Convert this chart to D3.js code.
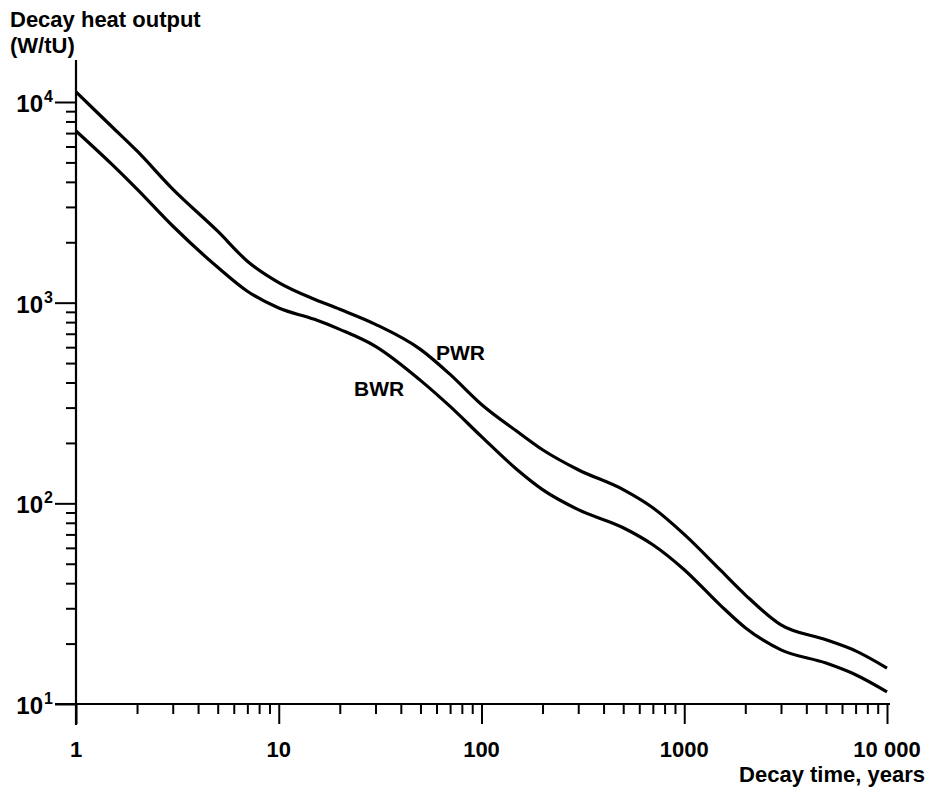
<!DOCTYPE html>
<html>
<head>
<meta charset="utf-8">
<script src="https://cdn.jsdelivr.net/npm/d3@7"></script>
<style>
  html, body { margin: 0; padding: 0; background: #fff; }
  svg text { font-family: "Liberation Sans", Arial, Helvetica, sans-serif; font-weight: bold; fill: #000; }
</style>
</head>
<body>
<svg id="chart" width="939" height="792"></svg>
<script>
// ---- data ----
const years = [1,1.5,2,3,5,7,10,15,20,30,50,70,100,150,200,300,500,700,1000,1500,2000,3000,5000,7000,10000];
const pwr = [11220,7550,5700,3680,2270,1610,1260,1040,927,780,585,439,311,228,185,147,117,95,70,46.7,35,24.8,20.9,18.4,15.1];
const bwr = [7170,4900,3680,2410,1500,1140,940,826,736,606,410,304,215,147,117,93,75.6,62.2,46.7,31.2,24,18.6,16,14,11.5];
const xMajor = [1,10,100,1000,10000];
const xMajorLabels = ["1","10","100","1000","10 000"];
const yMajor = [10,100,1000,10000];
const yExponents = ["1","2","3","4"];
const seriesNames = ["PWR","BWR"];
const yTitle = ["Decay heat output","(W/tU)"];
const xTitle = "Decay time, years";

const svg = d3.select("#chart");
const x = d3.scaleLog().domain([1,10000]).range([76,887]);
const y = d3.scaleLog().domain([10,10000]).range([704,102]);

function minors(lo, hi){
  const out = [];
  for (let d = lo; d < hi; d *= 10) for (let k = 2; k <= 9; k++) out.push(d*k);
  return out;
}
const xMinor = minors(1,10000);
const yMinor = minors(10,10000);

// y axis
const gy = svg.append("g").attr("transform", `translate(${x(1)},0)`);
gy.append("g").call(d3.axisLeft(y).tickValues(yMajor).tickSize(21).tickFormat(""))
  .call(g => g.select(".domain").remove());
gy.append("g").call(d3.axisLeft(y).tickValues(yMinor).tickSize(10).tickFormat(""))
  .call(g => g.select(".domain").remove());
gy.selectAll("line").attr("stroke","#000").attr("stroke-width",2);
gy.append("line").attr("x1",0).attr("x2",0).attr("y1",60).attr("y2",y(10)+21)
  .attr("stroke","#000").attr("stroke-width",2.2);

// x axis
const gx = svg.append("g").attr("transform", `translate(0,${y(10)})`);
gx.append("g").call(d3.axisBottom(x).tickValues(xMajor).tickSize(20).tickFormat(""))
  .call(g => g.select(".domain").remove());
gx.append("g").call(d3.axisBottom(x).tickValues(xMinor).tickSize(10).tickFormat(""))
  .call(g => g.select(".domain").remove());
gx.selectAll("line").attr("stroke","#000").attr("stroke-width",2);
gx.append("line").attr("x1",x(1)-21).attr("x2",890).attr("y1",0).attr("y2",0)
  .attr("stroke","#000").attr("stroke-width",2.2);

// x tick labels
svg.append("g").selectAll("text").data(xMajor).join("text")
  .attr("x", d => x(d)).attr("y", 757)
  .attr("text-anchor","middle").attr("font-size",22)
  .text((d,i) => xMajorLabels[i]);

// y tick labels
svg.append("g").selectAll("text").data(yMajor).join("text")
  .attr("x", 43).attr("y", d => y(d) + 10)
  .attr("text-anchor","end").attr("font-size",24)
  .text("10");
svg.append("g").selectAll("text").data(yMajor).join("text")
  .attr("x", 44).attr("y", d => y(d) + 0)
  .attr("font-size",16)
  .text((d,i) => yExponents[i]);

// titles
svg.append("text").attr("x",10).attr("y",27).attr("font-size",22).text(yTitle[0]);
svg.append("text").attr("x",10).attr("y",53).attr("font-size",22).text(yTitle[1]);
svg.append("text").attr("x",925).attr("y",782).attr("text-anchor","end").attr("font-size",22).text(xTitle);

// curves
const line = d3.line().x(d => x(d[0])).y(d => y(d[1])).curve(d3.curveMonotoneX);
[pwr, bwr].forEach(vals => {
  svg.append("path")
    .datum(years.map((t,i) => [t, vals[i]]))
    .attr("d", line)
    .attr("fill","none").attr("stroke","#000").attr("stroke-width",3.2)
    .attr("stroke-linejoin","round");
});

// series labels
svg.append("text").attr("x",436).attr("y",360).attr("font-size",21).text(seriesNames[0]);
svg.append("text").attr("x",354).attr("y",396).attr("font-size",21).text(seriesNames[1]);
</script>
</body>
</html>
